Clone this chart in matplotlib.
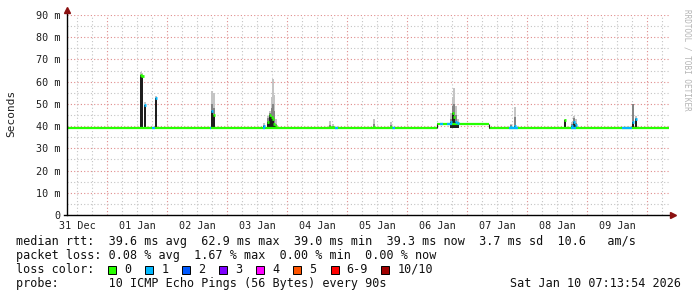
import numpy as np
import matplotlib
matplotlib.use("Agg")
import matplotlib.pyplot as plt
from matplotlib.patches import Rectangle

# time axis: hours since 31 Dec 00:00
t_start = 8.0
t_end = 248.8

day_labels = ["31 Dec", "01 Jan", "02 Jan", "03 Jan", "04 Jan",
              "05 Jan", "06 Jan", "07 Jan", "08 Jan", "09 Jan"]
y_values = [0, 10, 20, 30, 40, 50, 60, 70, 80, 90]
y_labels = ["0", "10 m", "20 m", "30 m", "40 m", "50 m", "60 m", "70 m", "80 m", "90 m"]

# median rtt (ms) over flat stretches
base_start = [8.0, 156.0, 176.8]
base_end = [156.0, 176.8, 248.8]
base_rtt = [39.3, 40.8, 39.3]

# stretches where one ping of ten was lost
loss1_start = [42.0, 65.2, 86.6, 115.2, 138.0, 157.2, 160.0, 184.8, 209.6, 230.0]
loss1_end = [43.2, 65.6, 87.4, 116.4, 139.2, 158.4, 162.0, 188.4, 211.6, 234.0]
loss1_rtt = [39.3, 39.3, 39.3, 39.3, 39.3, 40.8, 40.8, 39.3, 39.3, 39.3]

# rtt spikes: time, median, dense smoke top, max ping, lost pings
spike_t = [37.6, 38.2, 39.2, 43.6, 66.0, 66.8, 86.8, 88.4, 89.2, 90.0, 90.4,
           90.8, 91.6, 113.2, 114.4, 130.8, 137.6, 161.6, 162.4, 162.8, 163.6,
           164.4, 185.6, 187.2, 207.2, 210.0, 210.8, 211.6, 234.4, 235.6]
spike_med = [63.0, 62.5, 49.5, 52.5, 47.0, 45.0, 40.0, 42.0, 45.0, 44.0, 43.0,
             41.0, 40.0, 39.6, 39.6, 39.5, 39.5, 42.0, 46.0, 44.0, 42.0,
             41.5, 39.8, 40.0, 42.7, 40.0, 42.0, 40.5, 42.0, 43.0]
spike_mid = [63.0, 62.5, 49.5, 52.5, 50.0, 48.0, 40.5, 43.5, 46.0, 48.0, 50.0,
             47.0, 41.0, 40.5, 40.0, 41.0, 40.5, 43.0, 49.0, 50.0, 45.0,
             42.0, 40.5, 44.0, 42.7, 41.0, 43.5, 41.5, 50.0, 43.5]
spike_hi = [64.5, 64.0, 51.0, 53.5, 56.0, 55.0, 41.5, 44.5, 47.0, 53.0, 61.0,
            54.0, 43.0, 42.5, 41.0, 43.0, 42.0, 46.0, 53.0, 57.0, 49.0,
            43.0, 41.0, 48.5, 43.0, 42.0, 44.5, 43.0, 50.0, 44.5]
spike_loss = [0, 0, 1, 1, 1, 0, 1, 0, 0, 0, 0,
              0, 0, 0, 0, 0, 0, 1, 0, 0, 1,
              1, 1, 1, 0, 1, 1, 1, 1, 1]

loss_names = ["0", "1", "2", "3", "4", "5", "6-9", "10/10"]
loss_colors = ["#26ff00", "#00b8ff", "#0059ff", "#7e00ff",
               "#ff00ff", "#ff5500", "#ff0000", "#a00000"]

W, H = 697, 297
fig = plt.figure(figsize=(W / 100, H / 100), dpi=100)
ax = fig.add_axes([67 / W, 1 - 215 / H, 602 / W, 200 / H])
ax.set_xlim(t_start, t_end)
ax.set_ylim(0, 90)

t = np.array(spike_t)
ax.bar(t, np.array(spike_hi) - 39.0, bottom=39.0, width=0.8,
       color="#c4c4c4", linewidth=0, zorder=2)
ax.bar(t, np.array(spike_mid) - 39.0, bottom=39.0, width=0.8,
       color="#858585", linewidth=0, zorder=3)
ax.bar(t, np.array(spike_med) - 39.3, bottom=39.3, width=0.6,
       color="#1e1e1e", linewidth=0, zorder=4)

ax.hlines(base_rtt, base_start, base_end, colors=loss_colors[0], lw=1.6, zorder=5)
ax.vlines([base_start[1], base_end[1]], 39.3, 40.8, colors="#1e1e1e", lw=0.8, zorder=5)
ax.hlines(loss1_rtt, loss1_start, loss1_end, colors=loss_colors[1], lw=1.6, zorder=6)
ax.hlines(spike_med, t - 0.45, t + 0.45,
          colors=[loss_colors[l] for l in spike_loss], lw=2.0, zorder=7)

# ticks and grid
mono = "DejaVu Sans Mono"
midnights = np.arange(24, t_end, 24)
minor = [h for h in np.arange(12, t_end, 6) if h % 24 != 0]
minor_labels = [day_labels[int(h // 24)] if h % 24 == 12 else "" for h in minor]
ax.set_xticks(midnights, [""] * len(midnights))
ax.set_xticks(minor, minor_labels, minor=True)
ax.set_yticks(y_values, y_labels)
ax.set_yticks(np.arange(5, 90, 10), minor=True)
ax.tick_params(which="both", length=0)
ax.tick_params(axis="x", which="minor", pad=4, labelsize=7.3, labelcolor="#202020")
ax.tick_params(axis="y", which="major", pad=4.5, labelsize=7.3, labelcolor="#202020")
for lab in ax.get_xticklabels(minor=True) + ax.get_yticklabels():
    lab.set_family(mono)

ax.grid(which="minor", color="#c4c4c4", ls=(0, (1, 2)), lw=0.8)
ax.grid(which="major", color="#e08c8c", ls=(0, (1, 2)), lw=0.8)
ax.set_axisbelow(True)

for s in ax.spines.values():
    s.set_visible(False)
ax.plot([0, 0], [0, 1.02], transform=ax.transAxes, color="black", lw=1.0, clip_on=False, zorder=8)
ax.plot([-0.005, 1.006], [0, 0], transform=ax.transAxes, color="black", lw=1.0, clip_on=False, zorder=8)
ax.plot([0], [1.025], marker="^", ms=4, color="#8b1010", transform=ax.transAxes, clip_on=False, zorder=9)
ax.plot([1.007], [0], marker=">", ms=4, color="#8b1010", transform=ax.transAxes, clip_on=False, zorder=9)

fig.text(11 / W, 1 - 113 / H, "Seconds", rotation=90, ha="center", va="center",
         family=mono, fontsize=8, color="#202020")
fig.text(687 / W, 1 - 60 / H, "RRDTOOL / TOBI OETIKER", rotation=270, ha="center", va="center",
         family=mono, fontsize=5.5, color="#b4b4b4")

# legend rows
x0 = 15.6 / W
rows = [1 - 241.7 / H, 1 - 255.3 / H, 1 - 269.3 / H, 1 - 283.3 / H]
fs = 8.5
fig.text(x0, rows[0], "median rtt:  39.6 ms avg  62.9 ms max  39.0 ms min  39.3 ms now  3.7 ms sd  10.6   am/s",
         family=mono, fontsize=fs, va="center", color="#101010")
fig.text(x0, rows[1], "packet loss: 0.08 % avg  1.67 % max  0.00 % min  0.00 % now",
         family=mono, fontsize=fs, va="center", color="#101010")
fig.text(x0, rows[2], "loss color:", family=mono, fontsize=fs, va="center", color="#101010")
box_x = [108, 145.3, 182.2, 219.1, 256.4, 293.3, 330.7, 381.3]
for bx, name, col in zip(box_x, loss_names, loss_colors):
    fig.patches.append(Rectangle((bx / W, 1 - 273.5 / H), 8 / W, 8 / H, transform=fig.transFigure,
                                 facecolor=col, edgecolor="black", lw=0.7))
    fig.text((bx + 16) / W, rows[2], name, family=mono, fontsize=fs, va="center", color="#101010")
fig.text(x0, rows[3], "probe:       10 ICMP Echo Pings (56 Bytes) every 90s",
         family=mono, fontsize=fs, va="center", color="#101010")
fig.text(681 / W, rows[3], "Sat Jan 10 07:13:54 2026", family=mono, fontsize=fs,
         va="center", ha="right", color="#101010")

fig.savefig("out.png", dpi=100, facecolor="white")
